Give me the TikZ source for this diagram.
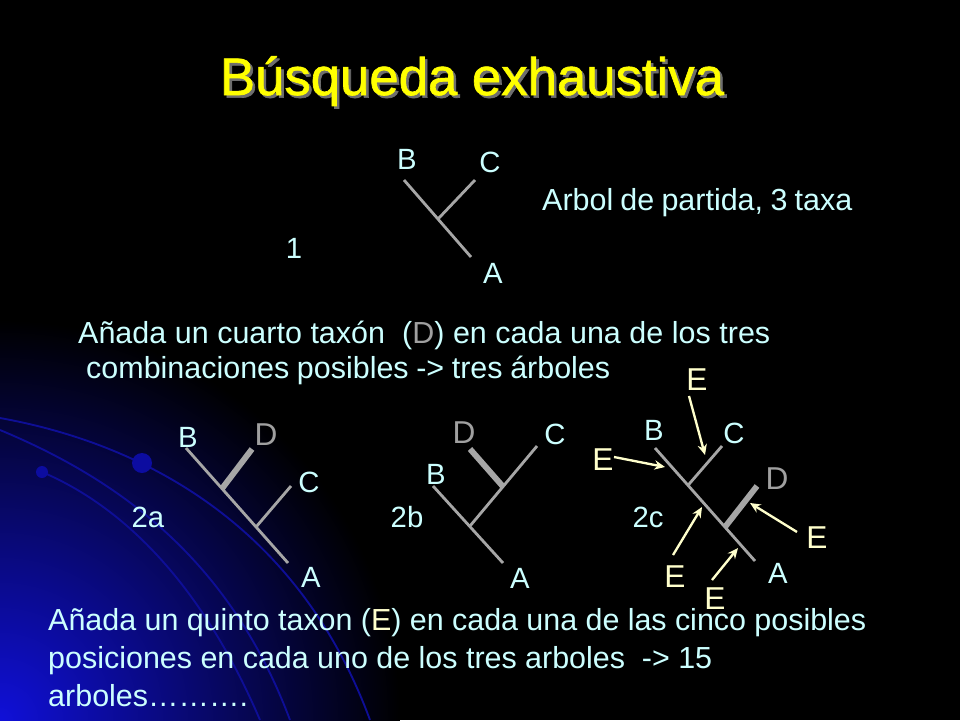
\documentclass[tikz,border=0pt]{standalone}
\usepackage{fontspec}
\setmainfont{Liberation Sans}
\newfontfamily\titlefont{Liberation Sans}[FakeBold=1.2]
\usetikzlibrary{arrows.meta}
\definecolor{txt}{HTML}{CCFFFF}
\definecolor{ttl}{HTML}{FFFF00}
\definecolor{shd}{HTML}{6E6E6E}
\definecolor{dgray}{HTML}{A0A0A0}
\definecolor{eyel}{HTML}{FFFFCC}
\definecolor{br}{HTML}{A6A6A6}
\definecolor{arcb}{HTML}{0E0E96}
\definecolor{glow}{HTML}{1010D8}
\definecolor{dotc}{HTML}{0C0CA0}
\begin{document}
\begin{tikzpicture}[x=0.03cm,y=-0.03cm,
  body/.style={anchor=base west,inner sep=0pt,text=txt,font=\fontsize{26}{30}\selectfont},
  lbl/.style={inner sep=0pt,text=txt,font=\fontsize{25}{29}\selectfont},
  dlbl/.style={inner sep=0pt,text=dgray,font=\fontsize{27}{31}\selectfont},
  elbl/.style={inner sep=0pt,text=eyel,font=\fontsize{27}{31}\selectfont},
  branch/.style={draw=br,line width=2.4pt},
  dbranch/.style={draw=br,line width=5pt},
  arr/.style={draw=eyel,line width=2pt,-{Stealth[open,length=9pt,width=8pt]}},
  arcline/.style={draw=arcb,line width=1.6pt},
  dot/.style={circle,fill=dotc,inner sep=0pt}]
% background
\fill[black] (0,0) rectangle (960,720);
\begin{scope}
  \clip (0,0) rectangle (960,720);
  \shade[inner color=glow,outer color=black] (0,720) circle (400);
  \draw[arcline] (0,418) .. controls (150,445) and (300,530) .. (370,720);
  \draw[arcline] (0,430) .. controls (120,480) and (230,560) .. (290,720);
  \draw[arcline] (42,472) .. controls (120,505) and (200,580) .. (260,720);
\end{scope}
\useasboundingbox (0,0) rectangle (960,720);
\node[dot,minimum size=0.6cm] (dot1) at (142,463) {};
\node[dot,minimum size=0.36cm] (dot2) at (42,472) {};
% title
\node[anchor=base,inner sep=0pt,text=ttl,font=\titlefont\fontsize{45}{50}\selectfont] (title) at (472,95)
  {\rlap{\kern2.2pt\raisebox{-2.2pt}{\color{shd}Búsqueda exhaustiva}}Búsqueda exhaustiva};
% tree 1
\coordinate (t1B) at (404,180);
\coordinate (t1J) at (438,219);
\coordinate (t1A) at (471,257);
\coordinate (t1C) at (475,180);
\draw[branch] (t1B) -- (t1A);
\draw[branch] (t1J) -- (t1C);
\node[lbl] (l1B) at (407,159) {B};
\node[lbl] (l1C) at (490,162) {C};
\node[lbl] (l1A) at (493,273) {A};
\node[lbl] (l1) at (294,248) {1};
\node[body] (partida) at (542,210) {\makebox[9.3cm][s]{Arbol de partida, 3 taxa}};
% text middle
\node[body] (mid1) at (78,343) {\makebox[20.76cm][s]{Añada un cuarto taxón\ \ ({\color{dgray}D}) en cada una de los tres}};
\node[body] (mid2) at (86,378) {\makebox[15.72cm][s]{combinaciones posibles -> tres árboles}};
% tree 2a
\coordinate (aB) at (186,448);
\coordinate (aA) at (288,563);
\coordinate (aJD) at (222,488.6);
\coordinate (aD) at (252,449);
\coordinate (aJC) at (256,527);
\coordinate (aC) at (291,486);
\draw[branch] (aB) -- (aA);
\draw[branch] (aJC) -- (aC);
\draw[dbranch] (aJD) -- (aD);
\node[lbl] (laB) at (188,437) {B};
\node[dlbl] (laD) at (266,435) {D};
\node[lbl] (laC) at (309,482) {C};
\node[lbl] (laA) at (311,577) {A};
\node[lbl] (la2) at (148,517) {2a};
% tree 2b
\coordinate (bB) at (433,486);
\coordinate (bJ1) at (470,526);
\coordinate (bA) at (503,563);
\coordinate (bC) at (537,446);
\coordinate (bJ2) at (503,486.6);
\coordinate (bD) at (470,449);
\draw[branch] (bB) -- (bA);
\draw[branch] (bJ1) -- (bC);
\draw[dbranch] (bJ2) -- (bD);
\node[dlbl] (lbD) at (464,433) {D};
\node[lbl] (lbC) at (555,434) {C};
\node[lbl] (lbB) at (436,474) {B};
\node[lbl] (lbA) at (520,578) {A};
\node[lbl] (lb2) at (407,517) {2b};
% tree 2c
\coordinate (cB) at (655,448);
\coordinate (cA) at (755,561);
\coordinate (cJ1) at (688,485.3);
\coordinate (cC) at (722,446);
\coordinate (cJ2) at (725,527);
\coordinate (cD) at (757,486);
\draw[branch] (cB) -- (cA);
\draw[branch] (cJ1) -- (cC);
\draw[dbranch] (cJ2) -- (cD);
\node[lbl] (lcB) at (654,430) {B};
\node[lbl] (lcC) at (734,433) {C};
\node[dlbl] (lcD) at (777,479) {D};
\node[lbl] (lcA) at (778,573) {A};
\node[lbl] (lc2) at (648,517) {2c};
% E labels and arrows
\node[elbl] (E1) at (697,380) {E};
\node[elbl] (E2) at (603,460) {E};
\node[elbl] (E3) at (817,538) {E};
\node[elbl] (E4) at (675,577) {E};
\node[elbl] (E5) at (715,599) {E};
\coordinate (e1t) at (689,396);  \coordinate (e1h) at (705,455);
\coordinate (e2t) at (614,457);  \coordinate (e2h) at (665,467);
\coordinate (e3t) at (797,532);  \coordinate (e3h) at (750,503);
\coordinate (e4t) at (673,555);  \coordinate (e4h) at (702,507);
\coordinate (e5t) at (712,580);  \coordinate (e5h) at (738,548);
\draw[arr] (e1t) -- (e1h);
\draw[arr] (e2t) -- (e2h);
\draw[arr] (e3t) -- (e3h);
\draw[arr] (e4t) -- (e4h);
\draw[arr] (e5t) -- (e5h);
% bottom text
\node[body] (bot1) at (48,630) {\makebox[24.54cm][s]{Añada un quinto taxon ({\color{eyel}E}) en cada una de las cinco posibles}};
\node[body] (bot2) at (48,668) {\makebox[19.92cm][s]{posiciones en cada uno de los tres arboles\ \ -> 15}};
\node[body] (bot3) at (48,706) {arboles……….};
\end{tikzpicture}
\end{document}
